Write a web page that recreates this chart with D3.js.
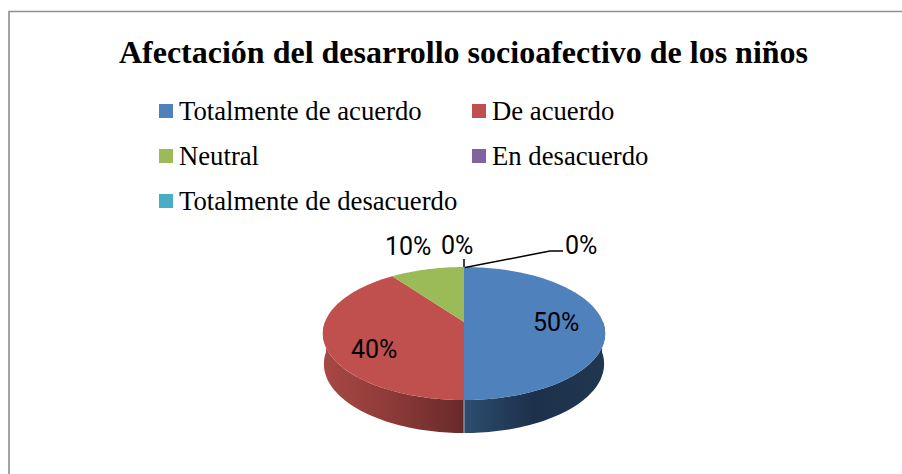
<!DOCTYPE html>
<html><head><meta charset="utf-8">
<script src="https://cdn.jsdelivr.net/npm/d3@7"></script>
<style>html,body{margin:0;padding:0;background:#fff;overflow:hidden}svg{display:block}</style>
</head><body><div id="c"></div>
<script>
const chartTitle = "Afectación del desarrollo socioafectivo de los niños";
const categories = ["Totalmente de acuerdo","De acuerdo","Neutral","En desacuerdo","Totalmente de desacuerdo"];
const seriesValues = [50,40,10,0,0];
const valueLabels = ["50%","40%","10%","0%","0%"];
const colors = ["#4f81bd","#c0504d","#9bbb59","#8064a2","#4bacc6"];

const W=902,H=474;
const svg=d3.select("#c").append("svg").attr("width",W).attr("height",H);
svg.append("rect").attr("width",W).attr("height",H).attr("fill","#fff");
svg.append("path").attr("d","M9,474V11.5H902").attr("fill","none").attr("stroke","#8e8e8e").attr("stroke-width",1.6);

svg.append("text").attr("x",463.5).attr("y",63).attr("text-anchor","middle")
  .attr("font-family","'Liberation Serif',serif").attr("font-weight","bold").attr("font-size",32).attr("fill","#000").text(chartTitle);

// legend
const legendX=[159,472,159,472,159], legendY=[111,156,201];
const legendRow=[0,0,1,1,2];
const lg=svg.append("g").selectAll("g").data(categories).join("g");
lg.append("rect").attr("x",(d,i)=>legendX[i]).attr("y",(d,i)=>legendY[legendRow[i]]-7).attr("width",14).attr("height",14).attr("fill",(d,i)=>colors[i]);
lg.append("text").attr("x",(d,i)=>legendX[i]+20).attr("y",(d,i)=>legendY[legendRow[i]]+8.5)
  .attr("font-family","'Liberation Serif',serif").attr("font-size",26.7).attr("fill","#000").text(d=>d);

// 3D pie: d3.pie angles projected in perspective
const arcs=d3.pie().sort(null).value(d=>d)(seriesValues);
const persp=-0.173;
function proj(a,o){const u=Math.sin(a),v=-Math.cos(a),den=1+persp*v;
  return [464+o.K*u/den, o.y0+o.k*v/den];}
const topP={K:139,k:64.5,y0:322}, botP={K:138,k:67,y0:352};
const line=d3.line();
function arcPts(a0,a1,o){const n=Math.max(2,Math.ceil((a1-a0)*40));
  return d3.range(n+1).map(i=>proj(a0+(a1-a0)*i/n,o));}
const defs=svg.append("defs");
function grad(id,x1,x2,stops){const g=defs.append("linearGradient").attr("id",id).attr("gradientUnits","userSpaceOnUse")
  .attr("x1",x1).attr("x2",x2).attr("y1",0).attr("y2",0);
  stops.forEach(s=>g.append("stop").attr("offset",s[0]).attr("stop-color",s[1]));}
grad("gb",464,605,[[0,"#2d4d70"],[0.5,"#1c304a"],[1,"#213750"]]);
grad("gr",323,464,[[0,"#a84845"],[0.5,"#8c3a38"],[1,"#672a28"]]);

const pie=svg.append("g");
// walls (front half only)
const walls=[{a0:Math.PI/2,a1:Math.PI,f:"url(#gb)"},{a0:Math.PI,a1:Math.PI*1.5,f:"url(#gr)"}];
pie.selectAll(".wall").data(walls).join("path").attr("class","wall").attr("fill",d=>d.f)
 .attr("d",d=>line([...arcPts(d.a0,d.a1,topP),...arcPts(d.a0,d.a1,botP).reverse()])+"Z");
pie.append("path").attr("fill","#c9d2de").attr("stroke","none")
 .attr("d",line([[463.6,400],[464.4,400],[464.4,433],[463.6,433]])+"Z");
// tops
pie.selectAll(".top").data(arcs.filter(d=>d.value>0)).join("path").attr("class","top")
 .attr("fill",d=>colors[d.index])
 .attr("d",d=>line([[464,topP.y0],...arcPts(d.startAngle,d.endAngle,topP)])+"Z");

// leader lines
svg.append("path").attr("fill","none").attr("stroke","#000").attr("stroke-width",1.5).attr("d","M464,267V259");
svg.append("path").attr("fill","none").attr("stroke","#000").attr("stroke-width",1.5).attr("d","M465,267.5L550,251H563");

// labels
const labelPos=[[533,331],[351,358],[385,255],[441,254],[565,254]];
svg.selectAll(".lab").data(valueLabels).join("text").attr("class","lab")
 .attr("x",(d,i)=>labelPos[i][0]).attr("y",(d,i)=>labelPos[i][1])
 .attr("font-family","Roboto,sans-serif").attr("font-size",25).attr("fill","#000").text(d=>d);
</script></body></html>
